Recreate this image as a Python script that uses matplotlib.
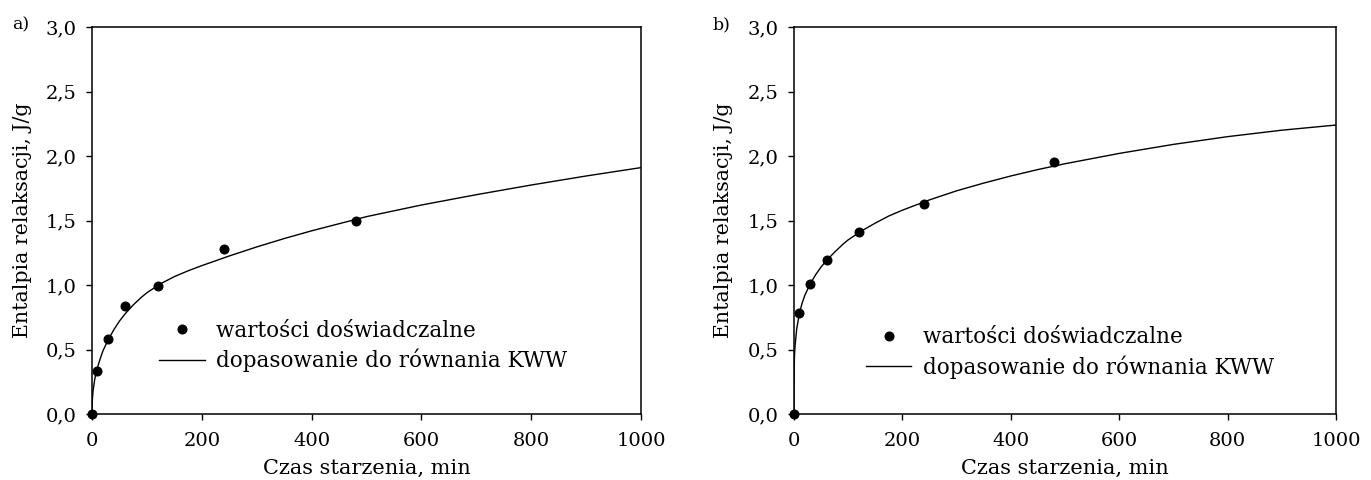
import matplotlib
matplotlib.use("Agg")
import matplotlib.pyplot as plt
from matplotlib.ticker import FuncFormatter, MultipleLocator
from matplotlib.lines import Line2D

plt.rcParams["font.family"] = ["DejaVu Serif"]

# Aging time of the measured samples, min
t_exp = [0, 10, 30, 60, 120, 240, 480]
# Relaxation enthalpy, J/g
h_exp_a = [0, 0.33, 0.58, 0.84, 0.99, 1.28, 1.50]
h_exp_b = [0, 0.78, 1.01, 1.19, 1.41, 1.63, 1.95]

# KWW fit curves
t_fit_a = [0, 0.5, 1, 2, 5, 10, 15, 20, 30, 40, 50, 60, 75, 90, 100, 125,
           150, 175, 200, 250, 300, 350, 400, 450, 500, 600, 700, 800, 900,
           1000]
h_fit_a = [0, 0.10, 0.13, 0.18, 0.27, 0.36, 0.43, 0.49, 0.58, 0.655, 0.72,
           0.775, 0.845, 0.905, 0.94, 1.01, 1.065, 1.11, 1.15, 1.225, 1.295,
           1.36, 1.42, 1.475, 1.53, 1.62, 1.70, 1.775, 1.845, 1.91]

t_fit_b = [0, 0.1, 0.5, 1, 2, 5, 10, 15, 20, 30, 40, 50, 60, 75, 90, 100,
           125, 150, 175, 200, 250, 300, 350, 400, 450, 500, 600, 700, 800,
           900, 1000]
h_fit_b = [0, 0.27, 0.39, 0.46, 0.53, 0.66, 0.78, 0.86, 0.92, 1.01, 1.08,
           1.14, 1.19, 1.255, 1.315, 1.35, 1.42, 1.48, 1.535, 1.58, 1.66,
           1.73, 1.79, 1.845, 1.895, 1.94, 2.02, 2.09, 2.15, 2.20, 2.24]

x_label = "Czas starzenia, min"
y_label = "Entalpia relaksacji, J/g"
legend_labels = ["wartości doświadczalne", "dopasowanie do równania KWW"]
panel_tags = ["a)", "b)"]

W, H = 1371, 480
fig = plt.figure(figsize=(W / 100, H / 100), dpi=100)

ax_a = fig.add_axes([92 / W, 66 / H, 549 / W, 387 / H])
ax_b = fig.add_axes([794 / W, 66 / H, 542 / W, 387 / H])

comma_fmt = FuncFormatter(lambda v, p: f"{v:.1f}".replace(".", ","))


def draw_panel(ax, t_pts, h_pts, t_fit, h_fit, leg_anchor, ylab_x):
    ax.plot(t_fit, h_fit, color="black", lw=1.0, zorder=2)
    ax.plot(t_pts, h_pts, "o", color="black", ms=6.2, clip_on=False,
            zorder=3)
    ax.set_xlim(0, 1000)
    ax.set_ylim(0, 3.0)
    ax.xaxis.set_major_locator(MultipleLocator(200))
    ax.yaxis.set_major_locator(MultipleLocator(0.5))
    ax.yaxis.set_major_formatter(comma_fmt)
    for sp in ax.spines.values():
        sp.set_linewidth(1.1)
    ax.tick_params(direction="out", length=4.2, width=1.0, labelsize=14,
                   top=False, right=False)
    ax.tick_params(axis="x", pad=8.8)
    ax.tick_params(axis="y", pad=7.0)
    ax.set_xlabel(x_label, fontsize=15)
    ax.xaxis.set_label_coords(0.5, -0.116)
    ax.set_ylabel(y_label, fontsize=14.8)
    ax.yaxis.set_label_coords(ylab_x, 0.5)

    handles = [
        Line2D([], [], ls="none", marker="o", color="black", ms=6.2),
        Line2D([], [], color="black", lw=1.0),
    ]
    ax.legend(handles, legend_labels, loc="center left",
              bbox_to_anchor=leg_anchor, frameon=False, fontsize=15.5,
              borderpad=0, borderaxespad=0, handlelength=2.1,
              handletextpad=0.55, labelspacing=0.33)


draw_panel(ax_a, t_exp, h_exp_a, t_fit_a, h_fit_a, (0.1226, 0.1757), -0.109)
draw_panel(ax_b, t_exp, h_exp_b, t_fit_b, h_fit_b, (0.1328, 0.159), -0.112)

fig.text(12 / W, 1 - 29.5 / H, panel_tags[0], fontsize=12.5, va="baseline")
fig.text(713 / W, 1 - 29.5 / H, panel_tags[1], fontsize=12.5, va="baseline")

fig.savefig("out.png", dpi=100)
